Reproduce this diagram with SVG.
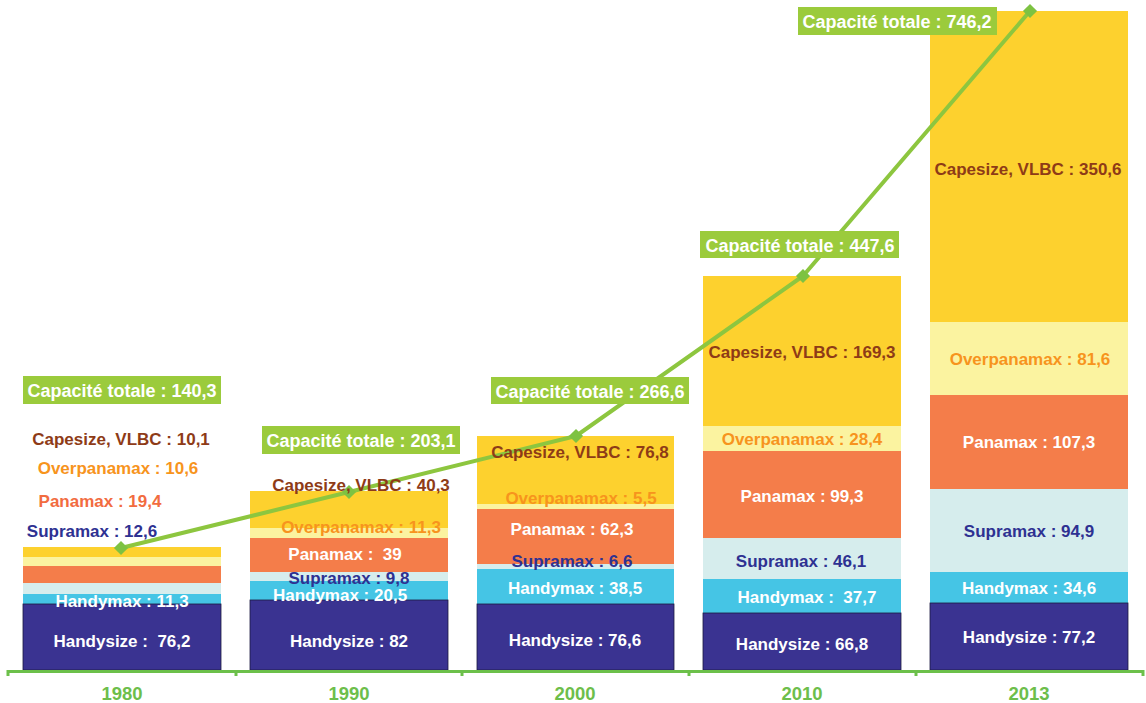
<svg xmlns="http://www.w3.org/2000/svg" width="1146" height="703" viewBox="0 0 1146 703">
<style>
text{font-family:"Liberation Sans",Arial,sans-serif;font-weight:bold;font-size:17px;text-anchor:middle}
.hs{fill:#3A3391;stroke:#1c1a40;stroke-width:0.8}
.hm{fill:#45C5E5}
.sm{fill:#D6EDED}
.pm{fill:#F47D4A}
.op{fill:#FBF3A0}
.cs{fill:#FDD12E}
.tw{fill:#ffffff}
.tb{fill:#8E3B17}
.to{fill:#F7941D}
.tn{fill:#2E3192}
.tp{fill:#F26C3F}
.cap{fill:#9BCB3C}
.capt{fill:#ffffff;font-size:18px}
.yr{fill:#6DBE4B;font-size:18.5px}
.mk{fill:#7DC242}
</style>
<rect width="1146" height="703" fill="#ffffff"/>

<g id="bar-1980">
<rect class="cs" x="23" y="547" width="198" height="10"/>
<rect class="op" x="23" y="557" width="198" height="9"/>
<rect class="pm" x="23" y="566" width="198" height="17"/>
<rect class="sm" x="23" y="583" width="198" height="11"/>
<rect class="hm" x="23" y="594" width="198" height="10"/>
<rect class="hs" x="23" y="604" width="198" height="66"/>
</g>
<g id="bar-1990">
<rect class="cs" x="250" y="491" width="198" height="37"/>
<rect class="op" x="250" y="528" width="198" height="10"/>
<rect class="pm" x="250" y="538" width="198" height="34"/>
<rect class="sm" x="250" y="572" width="198" height="9"/>
<rect class="hm" x="250" y="581" width="198" height="19"/>
<rect class="hs" x="250" y="600" width="198" height="70"/>
</g>
<g id="bar-2000">
<rect class="cs" x="477" y="436" width="197" height="68"/>
<rect class="op" x="477" y="504" width="197" height="5"/>
<rect class="pm" x="477" y="509" width="197" height="55"/>
<rect class="sm" x="477" y="564" width="197" height="5"/>
<rect class="hm" x="477" y="569" width="197" height="35"/>
<rect class="hs" x="477" y="604" width="197" height="66"/>
</g>
<g id="bar-2010">
<rect class="cs" x="703" y="276" width="198" height="150"/>
<rect class="op" x="703" y="426" width="198" height="25"/>
<rect class="pm" x="703" y="451" width="198" height="87"/>
<rect class="sm" x="703" y="538" width="198" height="41"/>
<rect class="hm" x="703" y="579" width="198" height="34"/>
<rect class="hs" x="703" y="613" width="198" height="57"/>
</g>
<g id="bar-2013">
<rect class="cs" x="930" y="11" width="198" height="311"/>
<rect class="op" x="930" y="322" width="198" height="73"/>
<rect class="pm" x="930" y="395" width="198" height="94"/>
<rect class="sm" x="930" y="489" width="198" height="83"/>
<rect class="hm" x="930" y="572" width="198" height="31"/>
<rect class="hs" x="930" y="603" width="198" height="67"/>
</g>

<g id="axis">
<path d="M8,676 V671.5 H1143 V676 M236,671.5 V676 M462,671.5 V676 M689,671.5 V676 M916,671.5 V676" fill="none" stroke="#6CC04A" stroke-width="3"/>
<text class="yr" x="122" y="700">1980</text>
<text class="yr" x="349" y="700">1990</text>
<text class="yr" x="575" y="700">2000</text>
<text class="yr" x="802" y="700">2010</text>
<text class="yr" x="1029" y="700">2013</text>
</g>

<g id="connectors">
<polyline points="121,548 349,492 576,436 803,276 1030,11" fill="none" stroke="#8DC63F" stroke-width="4" stroke-linejoin="round"/>
<rect class="mk" x="-5" y="-5" width="10" height="10" transform="translate(121,548) rotate(45)"/>
<rect class="mk" x="-5" y="-5" width="10" height="10" transform="translate(349,492) rotate(45)"/>
<rect class="mk" x="-5" y="-5" width="10" height="10" transform="translate(576,436) rotate(45)"/>
<rect class="mk" x="-5" y="-5" width="10" height="10" transform="translate(803,276) rotate(45)"/>
<rect class="mk" x="-5" y="-5" width="10" height="10" transform="translate(1030,11) rotate(45)"/>
</g>

<g id="labels-1980">
<text class="tb" x="121" y="445">Capesize, VLBC : 10,1</text>
<text class="to" x="118" y="474">Overpanamax : 10,6</text>
<text class="tp" x="100" y="507">Panamax : 19,4</text>
<text class="tn" x="92" y="537">Supramax : 12,6</text>
<text class="tw" x="122" y="607">Handymax : 11,3</text>
<text class="tw" x="122" y="647" xml:space="preserve">Handysize :  76,2</text>
</g>
<g id="labels-1990">
<text class="tb" x="361" y="491">Capesize, VLBC : 40,3</text>
<text class="to" x="361" y="533">Overpanamax : 11,3</text>
<text class="tw" x="345" y="560" xml:space="preserve">Panamax :  39</text>
<text class="tn" x="349" y="584">Supramax : 9,8</text>
<text class="tw" x="340" y="601">Handymax : 20,5</text>
<text class="tw" x="349" y="647">Handysize : 82</text>
</g>
<g id="labels-2000">
<text class="tb" x="580" y="458">Capesize, VLBC : 76,8</text>
<text class="to" x="581" y="504">Overpanamax : 5,5</text>
<text class="tw" x="572" y="535">Panamax : 62,3</text>
<text class="tn" x="572" y="567">Supramax : 6,6</text>
<text class="tw" x="575" y="594">Handymax : 38,5</text>
<text class="tw" x="575" y="646">Handysize : 76,6</text>
</g>
<g id="labels-2010">
<text class="tb" x="802" y="358">Capesize, VLBC : 169,3</text>
<text class="to" x="802" y="445">Overpanamax : 28,4</text>
<text class="tw" x="802" y="502">Panamax : 99,3</text>
<text class="tn" x="801" y="567">Supramax : 46,1</text>
<text class="tw" x="807" y="603" xml:space="preserve">Handymax :  37,7</text>
<text class="tw" x="802" y="650">Handysize : 66,8</text>
</g>
<g id="labels-2013">
<text class="tb" x="1028" y="175">Capesize, VLBC : 350,6</text>
<text class="to" x="1030" y="365">Overpanamax : 81,6</text>
<text class="tw" x="1029" y="448">Panamax : 107,3</text>
<text class="tn" x="1029" y="537">Supramax : 94,9</text>
<text class="tw" x="1029" y="594">Handymax : 34,6</text>
<text class="tw" x="1029" y="643">Handysize : 77,2</text>
</g>

<g id="total-1980">
<rect class="cap" x="23" y="376" width="198" height="28"/>
<text class="capt" x="122" y="397">Capacité totale : 140,3</text>
</g>
<g id="total-1990">
<rect class="cap" x="262" y="426" width="198" height="28"/>
<text class="capt" x="361" y="447">Capacité totale : 203,1</text>
</g>
<g id="total-2000">
<rect class="cap" x="491" y="377" width="198" height="27"/>
<text class="capt" x="590" y="398">Capacité totale : 266,6</text>
</g>
<g id="total-2010">
<rect class="cap" x="700" y="231" width="199" height="27"/>
<text class="capt" x="800" y="252">Capacité totale : 447,6</text>
</g>
<g id="total-2013">
<rect class="cap" x="798" y="7" width="199" height="28"/>
<text class="capt" x="897" y="28">Capacité totale : 746,2</text>
</g>
</svg>
